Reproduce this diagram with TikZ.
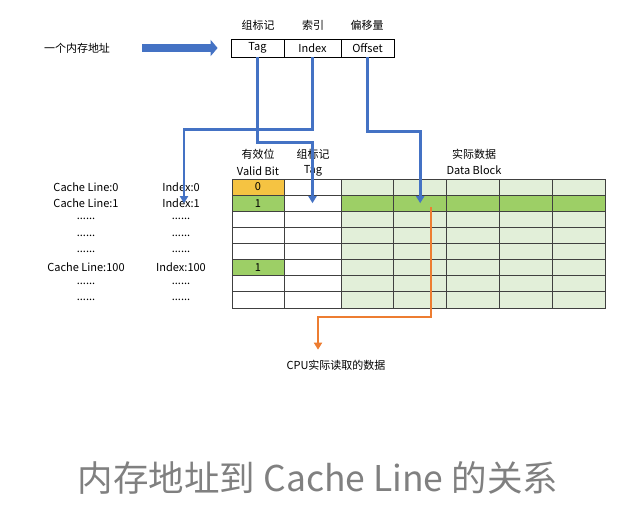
\documentclass[tikz,border=0pt]{standalone}
\usepackage{fontspec}
\setmainfont{Noto Sans CJK SC}
\usetikzlibrary{arrows.meta, positioning}

\definecolor{addrblue}{RGB}{68,114,196}
\definecolor{readorange}{RGB}{237,125,49}
\definecolor{validorange}{RGB}{245,195,66}
\definecolor{validgreen}{RGB}{157,207,102}
\definecolor{datalight}{RGB}{226,239,217}
\definecolor{gridgray}{RGB}{64,64,64}
\definecolor{titlegray}{RGB}{128,128,128}
\newcommand{\sixdots}{......}

\begin{document}
\begin{tikzpicture}[
    x=1pt, y=-1pt,
    lbl/.style={inner sep=0pt, font=\fontsize{11}{12}\selectfont},
    addrcell/.style={rectangle, draw=black, thick, inner sep=0pt, minimum height=18pt, font=\fontsize{11}{12}\selectfont},
    cellbox/.style={rectangle, draw=gridgray, line width=0.8pt, inner sep=0pt, minimum height=16.125pt, font=\fontsize{11}{12}\selectfont},
    bluearrow/.style={-{Triangle[width=8pt,length=7pt]}, line width=2.6pt, draw=addrblue},
    orangearrow/.style={-{Triangle[width=8pt,length=7pt]}, line width=2.6pt, draw=readorange}
]
    \useasboundingbox (0,0) rectangle (619,504);

    % memory address
    \node[lbl] (addr) at (77,48) {一个内存地址};
    \node[addrcell, minimum width=53pt] (tag) at (257.5,48) {Tag};
    \node[addrcell, minimum width=57pt] (idx) at (312.5,48) {Index};
    \node[addrcell, minimum width=53pt] (off) at (367.5,48) {Offset};
    \node[lbl] at (258,25) {组标记};
    \node[lbl] at (313,25) {索引};
    \node[lbl] at (367,25) {偏移量};
    \draw[line width=8pt, draw=addrblue, -{Triangle[width=16pt,length=7pt]}, shorten <=32pt, shorten >=13pt] (addr.east) -- (tag.west);

    % column headers
    \node[lbl] at (258,154) {有效位};
    \node[lbl] at (258,171) {Valid Bit};
    \node[lbl] at (313,154) {组标记};
    \node[lbl] at (313,171) {Tag};
    \node[lbl] at (474,154) {实际数据};
    \node[lbl] at (474,170) {Data Block};

    % cache lines
    \foreach \r/\vf/\vt/\df/\cl/\il in {
        0/validorange/0/datalight/Cache Line:0/Index:0,
        1/validgreen/1/validgreen/Cache Line:1/Index:1,
        2/white//datalight/\sixdots/\sixdots,
        3/white//datalight/\sixdots/\sixdots,
        4/white//datalight/\sixdots/\sixdots,
        5/validgreen/1/datalight/Cache Line:100/Index:100,
        6/white//datalight/\sixdots/\sixdots,
        7/white//datalight/\sixdots/\sixdots} {
        \pgfmathsetmacro\yc{187.06+16.125*\r}
        \node[lbl] (cl\r) at (86,\yc) {\cl};
        \node[lbl] (il\r) at (181,\yc) {\il};
        \node[cellbox, fill=\vf, minimum width=52pt] (v\r) at (258,\yc) {\vt};
        \node[cellbox, fill=white, minimum width=57pt] (t\r) at (312.5,\yc) {};
        \foreach \c in {0,...,4} {
            \node[cellbox, fill=\df, minimum width=52.8pt] (d\r-\c) at (367.4+52.8*\c,\yc) {};
        }
    }

    % address fields to cache line
    \draw[bluearrow] (idx.south) -- ++(0,72) -| ([xshift=3pt]il1.center);
    \draw[bluearrow] (tag.south) -- ++(0,85) -| (t1.center);
    \draw[bluearrow] (off.south) -- ++(0,74) -| (d1-1.center);

    % data read by cpu
    \node[lbl] (cpu) at (336,365) {CPU实际读取的数据};
    \coordinate (rd) at (431,207);
    \draw[orangearrow] (rd) -- ++(0,110) -| ([xshift=-18pt,yshift=10pt]cpu.north);

    % title
    \node[inner sep=0pt, text=titlegray, font=\fontsize{35.5}{40}\selectfont] (title) at (318,478) {内存地址到 Cache Line 的关系};
\end{tikzpicture}
\end{document}
